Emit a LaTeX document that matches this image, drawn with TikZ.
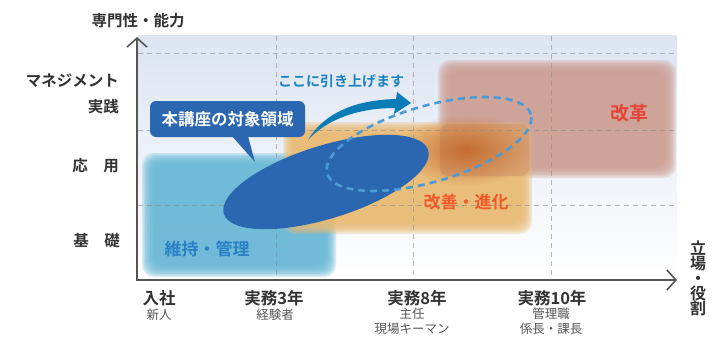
\documentclass[tikz,border=0pt]{standalone}
\usepackage{fontspec}
\setmainfont{Noto Sans CJK JP}[BoldFont={Noto Sans CJK JP Bold}]
\usetikzlibrary{arrows.meta,fadings,calc}
\tikzfading[name=softspot, inner color=transparent!0, outer color=transparent!100]
\definecolor{bgTop}{HTML}{DCE4F2}
\definecolor{blueReg}{HTML}{68B8D6}
\definecolor{orangeReg}{HTML}{E9BA72}
\definecolor{redReg}{HTML}{CE9F94}
\definecolor{darkOr}{HTML}{C56C32}
\definecolor{ellBlue}{HTML}{2A67B0}
\definecolor{dashBlue}{HTML}{4A9BD6}
\definecolor{arrowBlue}{HTML}{0B7CB5}
\definecolor{gridGray}{HTML}{8A8A8A}
\definecolor{axisGray}{HTML}{555555}
\definecolor{labelDark}{HTML}{333333}
\definecolor{labelSoft}{HTML}{555555}
\definecolor{kaikakuRed}{HTML}{E8453A}
\definecolor{kaizenOr}{HTML}{F05A28}
\definecolor{ijiBlue}{HTML}{2A80C6}
\definecolor{hikiBlue}{HTML}{1A82BD}
\newcommand\softregion[5]{%
  \foreach \k in {0,...,7}{%
    \fill[#5,opacity=0.28,rounded corners=12pt]
      ({#1+\k*1.6},{#2+\k*1.6}) rectangle ({#3-\k*1.6},{#4-\k*1.6});}}
\begin{document}
\begin{tikzpicture}[x=1pt,y=-1pt,
  gridline/.style={draw=gridGray,opacity=0.6,line width=1pt,dash pattern=on 5pt off 4pt},
  axisline/.style={draw=axisGray,line width=1.6pt,{Straight Barb[length=9pt,width=20pt]}-{Straight Barb[length=9pt,width=20pt]}},
  ylab/.style={anchor=east,text=labelDark,font=\bfseries\fontsize{15.5}{17}\selectfont,inner sep=0pt},
  xlab/.style={text=labelDark,font=\bfseries\fontsize{16.5}{18}\selectfont,inner sep=0pt},
  xsub/.style={text=labelSoft,font=\fontsize{12.5}{14.5}\selectfont,align=center,inner sep=0pt,anchor=north},
  reglab/.style={font=\bfseries\fontsize{17}{19}\selectfont,inner sep=0pt}
]
\useasboundingbox (0,0) rectangle (719,337);
% background
\shade[top color=bgTop,bottom color=white] (138,36) rectangle (677,280);
% regions
\softregion{438}{60}{676}{178}{redReg}
\softregion{142}{153}{336}{277}{blueReg}
\softregion{283}{122}{532}{234}{orangeReg}
\fill[redReg!60!darkOr,opacity=0.45,rounded corners=8pt] (440,124) rectangle (529,176);
\fill[darkOr,path fading=softspot] (466,150) ellipse [x radius=66pt, y radius=36pt];
% grid
\foreach \yy in {54,130,205}{\draw[gridline] (138,\yy) -- (676,\yy);}
\foreach \xx in {276,413,551}{\draw[gridline] (\xx,36) -- (\xx,280);}
% axes
\coordinate (O) at (137,280);
\coordinate (ytip) at (137,37);
\coordinate (xtip) at (677,280);
\draw[axisline] (ytip) -- (O) -- (xtip);
% solid ellipse
\fill[ellBlue,rotate around={17.3:(326,182)}] (326,182) ellipse [x radius=107pt, y radius=36.5pt];
% dashed ellipse
\draw[dashBlue,line width=2.6pt,dash pattern=on 7pt off 5pt,rotate around={16.2:(429,144)}] (429,144) ellipse [x radius=106pt, y radius=38pt];
% curved arrow
\coordinate (arrStart) at (308,140);
\coordinate (arrTip) at (411,103);
\fill[arrowBlue] (arrStart) .. controls (324,113) and (355,100) .. (396,99)
  -- (397,92) -- (arrTip) -- (394,114) -- (395,108)
  .. controls (357,108) and (326,120) .. (arrStart) -- cycle;
% callout
\node[fill=ellBlue,rounded corners=6pt,minimum width=155pt,minimum height=36pt,inner sep=0pt,
  text=white,font=\bfseries\fontsize{16.5}{18}\selectfont] (callout) at (227.5,119) {本講座の対象領域};
\coordinate (ctip) at (255,162);
\fill[ellBlue] ($(callout.south)+(4.5,-1)$) -- (ctip) -- ($(callout.south)+(20.5,-1)$) -- cycle;
% y labels
\node[text=labelDark,font=\bfseries\fontsize{15.5}{17}\selectfont,inner sep=0pt] (ytitle) at (138,21) {専門性・能力};
\node[ylab] (mgmt) at (119,81) {マネジメント};
\node[ylab] (jissen) at (119,107) {実践};
\node[ylab] (oyo) at (119,166) {応　用};
\node[ylab] (kiso) at (120,241) {基　礎};
% x labels
\node[xlab] (x1) at (159,298) {入社};
\node[xlab] (x2) at (274,298) {実務3年};
\node[xlab] (x3) at (417,298) {実務8年};
\node[xlab] (x4) at (552,298) {実務10年};
\node[xsub] (s1) at (159,309) {新人};
\node[xsub] (s2) at (275,309) {経験者};
\node[xsub] (s3) at (412,308) {主任\\現場キーマン};
\node[xsub] (s4) at (551,308) {管理職\\係長・課長};
\node[text=labelDark,font=\bfseries\fontsize{16}{15}\selectfont,align=center,inner sep=0pt] (xtitle) at (698,278) {立\\場\\・\\役\\割};
% region labels
\node[text=hikiBlue,font=\bfseries\fontsize{14}{16}\selectfont,inner sep=0pt] (hiki) at (341,81) {ここに引き上げます};
\node[reglab,text=kaikakuRed,font=\bfseries\fontsize{19}{21}\selectfont] (kaikaku) at (629,113) {改革};
\node[reglab,text=kaizenOr] (kaizen) at (466,202) {改善・進化};
\node[reglab,text=ijiBlue] (iji) at (207,249) {維持・管理};
\end{tikzpicture}
\end{document}
